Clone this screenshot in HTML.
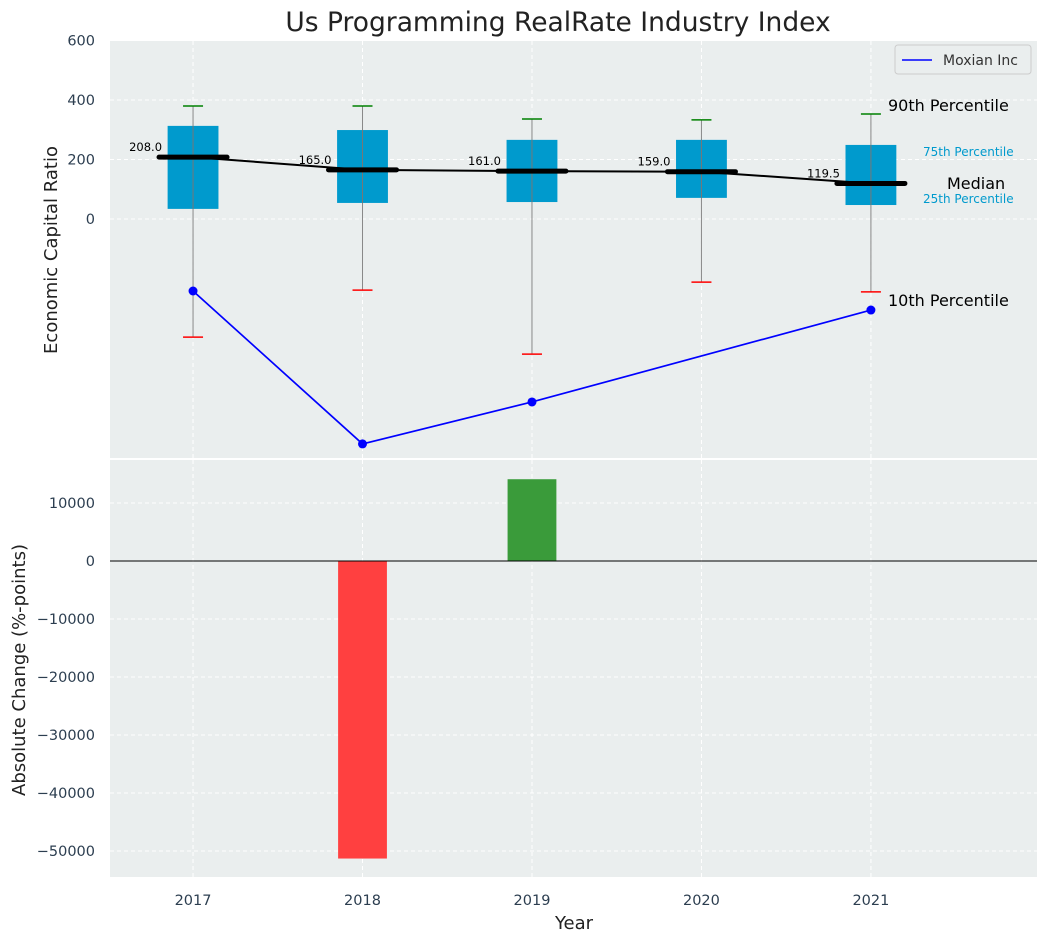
<!DOCTYPE html>
<html><head><meta charset="utf-8"><style>
body{margin:0;background:#fff;font-family:"Liberation Sans","DejaVu Sans",sans-serif}
svg text{font-family:"DejaVu Sans","Liberation Sans",sans-serif}
</style></head><body>
<svg id="c" width="1048" height="942" xmlns="http://www.w3.org/2000/svg"></svg>
<script>
const years=[2017,2018,2019,2020,2021];
const q1=[34,54,57,71,47];
const q3=[313,299,266,266,249];
const med=[208,165,161,159,119.5];
const p90=[380,380,336,333,353];
const p10=[-397,-239,-454,-212,-245];
const company=[-242,-756,-615,null,-306];
const changeYears=[2018,2019];
const changes=[-51300,14100];
const topTicks=[0,200,400,600];
const botTicks=[10000,0,-10000,-20000,-30000,-40000,-50000];

const NS="http://www.w3.org/2000/svg";
const svg=document.getElementById('c');
function mk(t,a,txt){const e=document.createElementNS(NS,t);for(const k in a)e.setAttribute(k,a[k]);if(txt!=null)e.textContent=txt;svg.appendChild(e);return e;}
const L=110,R=1037;
const x=v=>L+(v-2016.51)/(2021.98-2016.51)*(R-L);
const yT=v=>219-v*0.2975;
const yB=v=>561-v*0.0058;
const tickCol='#2c3e50';

let e=mk('rect',{x:L,y:41,width:R-L,height:417,fill:'#eaeeee'});

e=mk('rect',{x:L,y:460,width:R-L,height:417,fill:'#eaeeee'});


years.forEach(yr=>{
 mk('line',{x1:x(yr),x2:x(yr),y1:41,y2:458,stroke:'#fff','stroke-dasharray':'4,3'});
 mk('line',{x1:x(yr),x2:x(yr),y1:460,y2:877,stroke:'#fff','stroke-dasharray':'4,3'});
 e=mk('text',{x:x(yr),y:905,'text-anchor':'middle','font-size':14.5,fill:tickCol},yr);
 
});
topTicks.forEach(t=>{
 mk('line',{x1:L,x2:R,y1:yT(t),y2:yT(t),stroke:'#fff','stroke-dasharray':'4,3'});
 e=mk('text',{x:95,y:yT(t)+5,'text-anchor':'end','font-size':14.5,fill:tickCol},t);
 
});
botTicks.forEach(t=>{
 mk('line',{x1:L,x2:R,y1:yB(t),y2:yB(t),stroke:'#fff','stroke-dasharray':'4,3'});
 e=mk('text',{x:95,y:yB(t)+5,'text-anchor':'end','font-size':14.5,fill:tickCol},String(t).replace('-','\u2212'));
 
});

const bw=0.3*(R-L)/(2021.98-2016.51);
years.forEach((yr,i)=>{
 const cx=x(yr);
 e=mk('line',{x1:cx,x2:cx,y1:yT(p90[i]),y2:yT(p10[i]),stroke:'#888','stroke-width':1});
 
 e=mk('rect',{x:cx-bw/2,y:yT(q3[i]),width:bw,height:yT(q1[i])-yT(q3[i]),fill:'#009acd'});
 
 mk('line',{x1:cx,x2:cx,y1:yT(q3[i]),y2:yT(q1[i]),stroke:'#777','stroke-width':1});
 mk('line',{x1:cx-10,x2:cx+10,y1:yT(p90[i]),y2:yT(p90[i]),stroke:'green','stroke-width':1.5});
 mk('line',{x1:cx-10,x2:cx+10,y1:yT(p10[i]),y2:yT(p10[i]),stroke:'red','stroke-width':1.5});
 e=mk('line',{x1:cx-34,x2:cx+34,y1:yT(med[i]),y2:yT(med[i]),stroke:'#000','stroke-width':5,'stroke-linecap':'round'});
 
 e=mk('text',{x:cx-31,y:yT(med[i])-6,'text-anchor':'end','font-size':11.5,fill:'#000'},med[i].toFixed(1));
 
});
e=mk('polyline',{points:years.map((yr,i)=>x(yr)+','+yT(med[i])).join(' '),fill:'none',stroke:'#000','stroke-width':2});


const pts=years.map((yr,i)=>company[i]==null?null:[x(yr),yT(company[i])]).filter(p=>p);
e=mk('polyline',{points:pts.map(p=>p.join(',')).join(' '),fill:'none',stroke:'blue','stroke-width':1.7});

pts.forEach(p=>{e=mk('circle',{cx:p[0],cy:p[1],r:4.5,fill:'blue'});
 });

const ann=[[888,111,'90th Percentile',16,'#000'],[923,156,'75th Percentile',12,'#009acd'],[947,189,'Median',16,'#000'],[923,203,'25th Percentile',12,'#009acd'],[888,306,'10th Percentile',16,'#000']];
ann.forEach(a=>{e=mk('text',{x:a[0],y:a[1],'font-size':a[3],fill:a[4]},a[2]);
 });

e=mk('rect',{x:895,y:45,width:136,height:29,fill:'#eaeeee',stroke:'#ccc',rx:3});

mk('line',{x1:902,x2:932,y1:60,y2:60,stroke:'blue','stroke-width':1.5});
e=mk('text',{x:943,y:65,'font-size':14,fill:'#333'},'Moxian Inc');


changeYears.forEach((yr,i)=>{
 const v=changes[i];
 e=mk('rect',{x:x(yr)-bw*0.48,y:Math.min(yB(v),yB(0)),width:bw*0.96,height:Math.abs(yB(v)-yB(0)),fill:v<0?'#ff4040':'#3a9b3a'});
 
});
mk('line',{x1:L,x2:R,y1:yB(0),y2:yB(0),stroke:'#000','stroke-width':1});

e=mk('text',{x:558,y:31,'text-anchor':'middle','font-size':26.5,fill:'#222'},'Us Programming RealRate Industry Index');

e=mk('text',{x:0,y:0,'text-anchor':'middle','font-size':18,fill:'#222',transform:'translate(57,250) rotate(-90)'},'Economic Capital Ratio');

e=mk('text',{x:0,y:0,'text-anchor':'middle','font-size':18,fill:'#222',transform:'translate(25,670) rotate(-90)'},'Absolute Change (%-points)');

e=mk('text',{x:574,y:929,'text-anchor':'middle','font-size':18,fill:'#222'},'Year');

</script>
</body></html>
